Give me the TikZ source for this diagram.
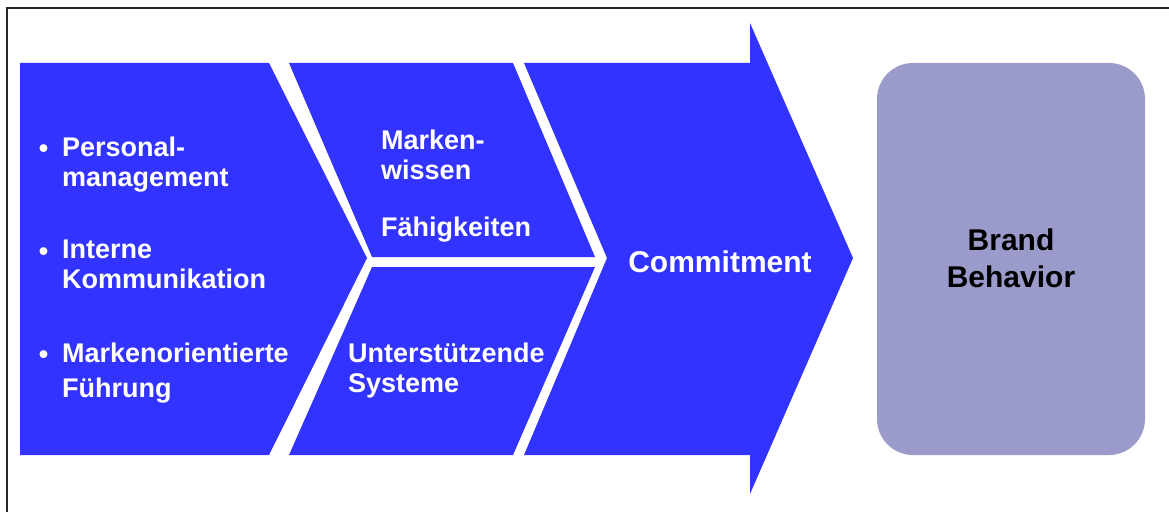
\documentclass[tikz,border=0pt]{standalone}
\usepackage{fontspec}
\setmainfont{Liberation Sans}
\usepackage{tikz}
\definecolor{markblue}{rgb}{0.2,0.2,1}
\definecolor{brandgrey}{RGB}{155,155,203}

\begin{document}
\begin{tikzpicture}[>=latex, x=1pt, y=-1pt,
    txt/.style={text=white, font=\bfseries\fontsize{27}{30}\selectfont, inner sep=0pt, align=left, anchor=north west}]

			\useasboundingbox (0,0) rectangle (1169,511);
			\fill[white] (0,0) rectangle (1169,511);
			\draw[line width=2pt, color=black!85] (6.5,540) -- (6.5,8) -- (1200,8);

			% the chevrons
			\fill[markblue] (20,63) -- (269,63) -- (367,258) -- (269,455) -- (20,455) -- cycle;
			\fill[markblue] (289,63) -- (513,63) -- (595,257) -- (372,257) -- cycle;
			\fill[markblue] (372,267) -- (595,267) -- (513,455) -- (289,455) -- cycle;
			\fill[markblue] (524,63) -- (750,63) -- (750,23) -- (853,258) -- (750,494) -- (750,455) -- (524,455) -- (607,258) -- cycle;
			\fill[brandgrey, rounded corners=36pt] (877,63) rectangle (1145,455);

			\foreach \y/\n in {157/1, 260/2, 363/3}
			  \node[text=white, font=\bfseries\fontsize{27}{30}\selectfont, inner sep=0pt, anchor=base] (bul\n) at (43.5,\y) {\textbullet};

			\node[txt] (personal) at (62,137) {Personal-\\management};
			\node[txt] (interne) at (62,240) {Interne\\Kommunikation};
			\node[txt] (fuehrung) at (62,343) {Markenorientierte\\[5pt]Führung};

			\node[txt] (wissen) at (381,130) {Marken-\\wissen};
			\node[txt] (faehig) at (381,217) {Fähigkeiten};
			\node[txt] (systeme) at (348,343) {Unterstützende\\Systeme};

			\node[text=white, font=\bfseries\fontsize{30}{34}\selectfont, inner sep=0pt, anchor=base] (commit) at (720,272) {Commitment};
			\node[font=\bfseries\fontsize{30}{37}\selectfont, inner sep=0pt, align=center, anchor=north] (brand) at (1011,229) {Brand\\Behavior};
		\end{tikzpicture}
\end{document}
